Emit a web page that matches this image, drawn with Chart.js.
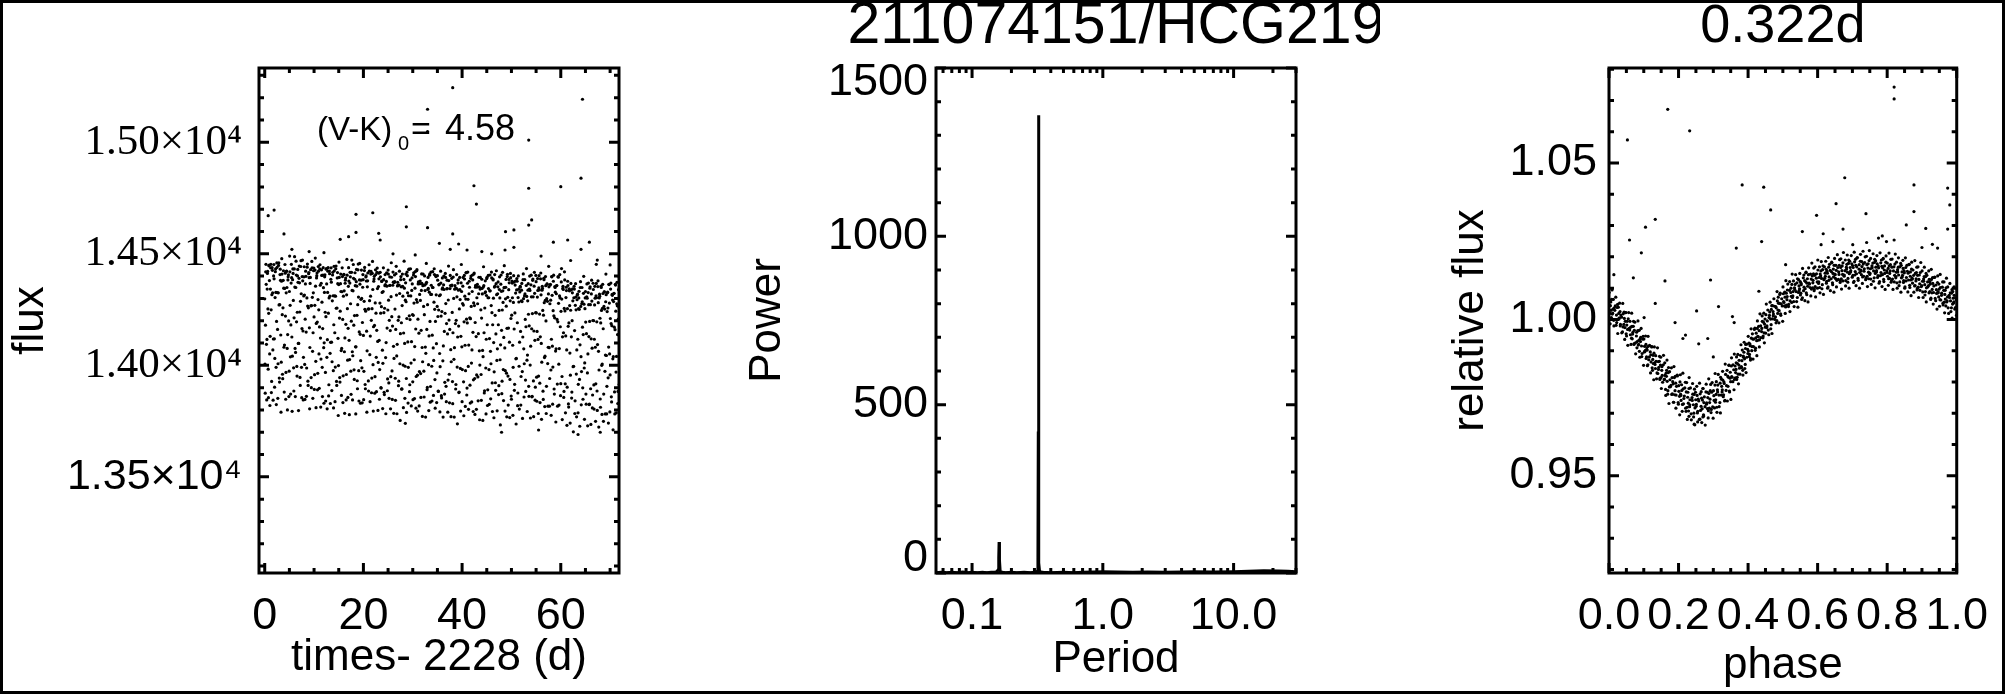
<!DOCTYPE html>
<html>
<head>
<meta charset="utf-8">
<script src="https://cdn.jsdelivr.net/npm/chart.js@4.4.1/dist/chart.umd.min.js"></script>
<style>
html,body{margin:0;padding:0;background:#fff;}
#wrap{position:relative;width:2005px;height:694px;overflow:hidden;background:#fff;}
#wrap canvas{position:absolute;top:0;}
#frame{position:absolute;left:0;top:0;width:2005px;height:694px;box-sizing:border-box;border:3px solid #000;pointer-events:none;}
</style>
</head>
<body>
<div id="wrap">
<canvas id="c1" width="680" height="694" style="left:0px"></canvas>
<canvas id="c2" width="680" height="694" style="left:700px"></canvas>
<canvas id="c3" width="625" height="694" style="left:1380px"></canvas>
<div id="frame"></div>
</div>
<script>
// ---------- Panel 1: light curve ----------
const lcTime = [
0,0.1,0.2,0.3,0.4,0.5,0.6,0.7,0.8,0.9,1,1.1,1.2,1.3,1.4,1.5,1.6,1.7,1.8,1.9,2,2.1,2.2,2.3,2.4,2.5,2.6,2.7,2.8,
2.9,3,3.1,3.2,3.3,3.4,3.5,3.6,3.7,3.8,3.9,4,4.1,4.2,4.3,4.4,4.5,4.6,4.7,4.8,4.9,5,5.1,5.2,5.3,5.4,5.5,5.6,5.7,
5.8,5.9,6,6.1,6.2,6.3,6.4,6.5,6.6,6.7,6.8,6.9,7,7.1,7.2,7.3,7.4,7.5,7.6,7.7,7.8,7.9,8,8.1,8.2,8.3,8.4,8.5,8.6,
8.7,8.8,8.9,9,9.1,9.2,9.3,9.4,9.5,9.6,9.7,9.8,9.9,10,10.1,10.2,10.3,10.4,10.5,10.6,10.7,10.8,10.9,11,11.1,11.2,11.3,11.4,11.5,
11.6,11.7,11.8,11.9,12,12.1,12.2,12.3,12.4,12.5,12.6,12.7,12.8,12.9,13,13.1,13.2,13.3,13.4,13.5,13.6,13.7,13.8,13.9,14,14.1,14.2,14.3,14.4,
14.5,14.6,14.7,14.8,14.9,15,15.1,15.2,15.3,15.4,15.5,15.6,15.7,15.8,15.9,16,16.1,16.2,16.3,16.4,16.5,16.6,16.7,16.8,16.9,17,17.1,17.2,17.3,
17.4,17.5,17.6,17.7,17.8,17.9,18,18.1,18.2,18.3,18.4,18.5,18.6,18.7,18.8,18.9,19,19.1,19.2,19.3,19.4,19.5,19.6,19.7,19.8,19.9,20,20.1,20.2,
20.3,20.4,20.5,20.6,20.7,20.8,20.9,21,21.1,21.2,21.3,21.4,21.5,21.6,21.7,21.8,21.9,22,22.1,22.2,22.3,22.4,22.5,22.6,22.7,22.8,22.9,23,23.1,
23.2,23.3,23.4,23.5,23.6,23.7,23.8,23.9,24,24.1,24.2,24.3,24.4,24.5,24.6,24.7,24.8,24.9,25,25.1,25.2,25.3,25.4,25.5,25.6,25.7,25.8,25.9,26,
26.1,26.2,26.3,26.4,26.5,26.6,26.7,26.8,26.9,27,27.1,27.2,27.3,27.4,27.5,27.6,27.7,27.8,27.9,28,28.1,28.2,28.3,28.4,28.5,28.6,28.7,28.8,28.9,
29,29.1,29.2,29.3,29.4,29.5,29.6,29.7,29.8,29.9,30,30.1,30.2,30.3,30.4,30.5,30.6,30.7,30.8,30.9,31,31.1,31.2,31.3,31.4,31.5,31.6,31.7,31.8,
31.9,32,32.1,32.2,32.3,32.4,32.5,32.6,32.7,32.8,32.9,33,33.1,33.2,33.3,33.4,33.5,33.6,33.7,33.8,33.9,34,34.1,34.2,34.3,34.4,34.5,34.6,34.7,
34.8,34.9,35,35.1,35.2,35.3,35.4,35.5,35.6,35.7,35.8,35.9,36,36.1,36.2,36.3,36.4,36.5,36.6,36.7,36.8,36.9,37,37.1,37.2,37.3,37.4,37.5,37.6,
37.7,37.8,37.9,38,38.1,38.2,38.3,38.4,38.5,38.6,38.7,38.8,38.9,39,39.1,39.2,39.3,39.4,39.5,39.6,39.7,39.8,39.9,40,40.1,40.2,40.3,40.4,40.5,
40.6,40.7,40.8,40.9,41,41.1,41.2,41.3,41.4,41.5,41.6,41.7,41.8,41.9,42,42.1,42.2,42.3,42.4,42.5,42.6,42.7,42.8,42.9,43,43.1,43.2,43.3,43.4,
43.5,43.6,43.7,43.8,43.9,44,44.1,44.2,44.3,44.4,44.5,44.6,44.7,44.8,44.9,45,45.1,45.2,45.3,45.4,45.5,45.6,45.7,45.8,45.9,46,46.1,46.2,46.3,
46.4,46.5,46.6,46.7,46.8,46.9,47,47.1,47.2,47.3,47.4,47.5,47.6,47.7,47.8,47.9,48,48.1,48.2,48.3,48.4,48.5,48.6,48.7,48.8,48.9,49,49.1,49.2,
49.3,49.4,49.5,49.6,49.7,49.8,49.9,50,50.1,50.2,50.3,50.4,50.5,50.6,50.7,50.8,50.9,51,51.1,51.2,51.3,51.4,51.5,51.6,51.7,51.8,51.9,52,52.1,
52.2,52.3,52.4,52.5,52.6,52.7,52.8,52.9,53,53.1,53.2,53.3,53.4,53.5,53.6,53.7,53.8,53.9,54,54.1,54.2,54.3,54.4,54.5,54.6,54.7,54.8,54.9,55,
55.1,55.2,55.3,55.4,55.5,55.6,55.7,55.8,55.9,56,56.1,56.2,56.3,56.4,56.5,56.6,56.7,56.8,56.9,57,57.1,57.2,57.3,57.4,57.5,57.6,57.7,57.8,57.9,
58,58.1,58.2,58.3,58.4,58.5,58.6,58.7,58.8,58.9,59,59.1,59.2,59.3,59.4,59.5,59.6,59.7,59.8,59.9,60,60.1,60.2,60.3,60.4,60.5,60.6,60.7,60.8,
60.9,61,61.1,61.2,61.3,61.4,61.5,61.6,61.7,61.8,61.9,62,62.1,62.2,62.3,62.4,62.5,62.6,62.7,62.8,62.9,63,63.1,63.2,63.3,63.4,63.5,63.6,63.7,
63.8,63.9,64,64.1,64.2,64.3,64.4,64.5,64.6,64.7,64.8,64.9,65,65.1,65.2,65.3,65.4,65.5,65.6,65.7,65.8,65.9,66,66.1,66.2,66.3,66.4,66.5,66.6,
66.7,66.8,66.9,67,67.1,67.2,67.3,67.4,67.5,67.6,67.7,67.8,67.9,68,68.1,68.2,68.3,68.4,68.5,68.6,68.7,68.8,68.9,69,69.1,69.2,69.3,69.4,69.5,
69.6,69.7,69.8,69.9,70,70.1,70.2,70.3,70.4,70.5,70.6,70.7,70.8,70.9,71,71.1,71.2,71.3,71.4,71.5,71.6,71.7,71.8,71.9
];
const lcFlux = [
14298,13875,14419,14363,13845,14342,14421,13983,14233,14449,14051,14130,14437,14249,13928,14438,14325,13844,14401,14388,13902,14304,14432,13991,14197,14439,14161,14007,14448,
14271,13925,14407,14381,13790,14377,14409,13960,14258,14424,14081,14091,14452,14221,13968,14421,14349,13800,14383,14406,13860,14331,14419,14038,14181,14453,14127,14041,14432,
14291,13885,14432,14351,13860,14349,14405,13995,14238,14430,14098,14098,14445,14239,13910,14443,14321,13855,14398,14379,13845,14311,14442,14004,14207,14422,14149,13988,14440,
14266,13910,14411,14393,13805,14367,14429,13945,14268,14437,14063,14146,14424,14217,13958,14427,14355,13810,14392,14414,13890,14295,14422,14051,14172,14451,14122,14028,14428,
14283,13860,14404,14348,13830,14327,14406,13968,14218,14434,14036,14115,14422,14234,13913,14423,14310,13829,14386,14373,13887,14289,14417,13976,14182,14424,14146,13992,14433,
14256,13910,14392,14366,13775,14362,14394,13945,14243,14409,14066,14076,14437,14206,13953,14406,14334,13785,14368,14391,13845,14316,14404,14023,14166,14438,14112,14026,14417,
14276,13870,14417,14336,13845,14334,14390,13980,14223,14415,14083,14083,14430,14224,13895,14428,14306,13840,14383,14364,13830,14296,14427,13989,14192,14407,14134,13973,14425,
14251,13895,14396,14378,13790,14352,14414,13930,14253,14422,14048,14131,14409,14202,13943,14412,14340,13795,14377,14399,13875,14280,14407,14036,14157,14436,14107,14013,14413,
14112,13981,14417,14234,13898,14376,14327,13806,14331,14384,13879,14256,14407,14035,14102,14415,14167,13939,14427,14292,13852,14358,14359,13805,14308,14395,13975,14176,14418,
14085,14031,14405,14252,13843,14411,14315,13783,14356,14359,13909,14217,14422,14007,14142,14398,14191,13895,14409,14310,13810,14385,14346,13852,14292,14409,13941,14210,14402,
14105,13991,14430,14222,13913,14383,14311,13818,14336,14365,13926,14224,14415,14025,14084,14420,14163,13950,14424,14283,13795,14365,14369,13818,14318,14378,13963,14157,14410,
14080,14016,14409,14264,13858,14401,14335,13768,14366,14372,13891,14272,14394,14003,14132,14404,14197,13905,14418,14318,13840,14349,14349,13865,14283,14407,13936,14197,14398,
14097,13966,14402,14219,13883,14361,14312,13791,14316,14369,13864,14241,14392,14020,14087,14400,14152,13924,14412,14277,13837,14343,14344,13790,14293,14380,13960,14161,14403,
14070,14016,14390,14237,13828,14396,14300,13768,14341,14344,13894,14202,14407,13992,14127,14383,14176,13880,14394,14295,13795,14370,14331,13837,14277,14394,13926,14195,14387,
14090,13976,14415,14207,13898,14368,14296,13803,14321,14350,13911,14209,14400,14010,14069,14405,14148,13935,14409,14268,13780,14350,14354,13803,14303,14363,13948,14142,14395,
14065,14001,14394,14249,13843,14386,14320,13753,14351,14357,13876,14257,14379,13988,14117,14389,14182,13890,14403,14303,13825,14334,14334,13850,14268,14392,13921,14182,14383,
14102,13971,14407,14224,13888,14366,14317,13796,14321,14374,13869,14246,14397,14025,14092,14405,14157,13929,14417,14282,13842,14348,14349,13795,14298,14385,13965,14166,14408,
13952,14167,14385,14104,13937,14412,14210,13848,14378,14303,13776,14282,14373,13888,14235,14378,14029,14031,14389,14191,13876,14401,14284,13804,14329,14354,13822,14289,14367,
13972,14127,14410,14074,14007,14384,14206,13883,14358,14309,13793,14289,14366,13906,14177,14400,14001,14086,14404,14164,13861,14381,14307,13770,14355,14323,13844,14236,14375,
13947,14152,14389,14116,13952,14402,14230,13833,14388,14316,13758,14337,14345,13884,14225,14384,14035,14041,14398,14199,13906,14365,14287,13817,14320,14352,13817,14276,14363,
13979,14117,14397,14086,13992,14377,14222,13871,14353,14328,13746,14321,14358,13916,14195,14395,14005,14075,14407,14173,13918,14374,14297,13757,14345,14340,13856,14255,14383,
13917,14132,14350,14069,13902,14377,14175,13813,14343,14268,13741,14247,14338,13853,14200,14343,13994,13996,14354,14156,13841,14366,14249,13769,14294,14319,13787,14254,14332,
13937,14092,14375,14039,13972,14349,14171,13848,14323,14274,13758,14254,14331,13871,14142,14365,13966,14051,14369,14129,13826,14346,14272,13735,14320,14288,13809,14201,14340,
13912,14117,14354,14081,13917,14367,14195,13798,14353,14281,13723,14302,14310,13849,14190,14349,14000,14006,14363,14164,13871,14330,14252,13782,14285,14317,13782,14241,14328,
13944,14082,14362,14051,13957,14342,14187,13836,14318,14293,13711,14286,14323,13881,14160,14360,13970,14040,14372,14138,13883,14339,14262,13722
];
const lcTime2 = [
0.05,0.15,0.25,0.35,0.45,0.55,0.65,0.75,0.85,0.95,1.05,1.15,1.25,1.35,1.45,1.55,1.65,1.75,1.85,1.95,2.05,2.15,2.25,2.35,2.45,2.55,2.65,2.75,2.85,
2.95,3.05,3.15,3.25,3.35,3.45,3.55,3.65,3.75,3.85,3.95,4.05,4.15,4.25,4.35,4.45,4.55,4.65,4.75,4.85,4.95,5.05,5.15,5.25,5.35,5.45,5.55,5.65,5.75,
5.85,5.95,6.05,6.15,6.25,6.35,6.45,6.55,6.65,6.75,6.85,6.95,7.05,7.15,7.25,7.35,7.45,7.55,7.65,7.75,7.85,7.95,8.05,8.15,8.25,8.35,8.45,8.55,8.65,
8.75,8.85,8.95,9.05,9.15,9.25,9.35,9.45,9.55,9.65,9.75,9.85,9.95,10.05,10.15,10.25,10.35,10.45,10.55,10.65,10.75,10.85,10.95,11.05,11.15,11.25,11.35,11.45,11.55,
11.65,11.75,11.85,11.95,12.05,12.15,12.25,12.35,12.45,12.55,12.65,12.75,12.85,12.95,13.05,13.15,13.25,13.35,13.45,13.55,13.65,13.75,13.85,13.95,14.05,14.15,14.25,14.35,14.45,
14.55,14.65,14.75,14.85,14.95,15.05,15.15,15.25,15.35,15.45,15.55,15.65,15.75,15.85,15.95,16.05,16.15,16.25,16.35,16.45,16.55,16.65,16.75,16.85,16.95,17.05,17.15,17.25,17.35,
17.45,17.55,17.65,17.75,17.85,17.95,18.05,18.15,18.25,18.35,18.45,18.55,18.65,18.75,18.85,18.95,19.05,19.15,19.25,19.35,19.45,19.55,19.65,19.75,19.85,19.95,20.05,20.15,20.25,
20.35,20.45,20.55,20.65,20.75,20.85,20.95,21.05,21.15,21.25,21.35,21.45,21.55,21.65,21.75,21.85,21.95,22.05,22.15,22.25,22.35,22.45,22.55,22.65,22.75,22.85,22.95,23.05,23.15,
23.25,23.35,23.45,23.55,23.65,23.75,23.85,23.95,24.05,24.15,24.25,24.35,24.45,24.55,24.65,24.75,24.85,24.95,25.05,25.15,25.25,25.35,25.45,25.55,25.65,25.75,25.85,25.95,26.05,
26.15,26.25,26.35,26.45,26.55,26.65,26.75,26.85,26.95,27.05,27.15,27.25,27.35,27.45,27.55,27.65,27.75,27.85,27.95,28.05,28.15,28.25,28.35,28.45,28.55,28.65,28.75,28.85,28.95,
29.05,29.15,29.25,29.35,29.45,29.55,29.65,29.75,29.85,29.95,30.05,30.15,30.25,30.35,30.45,30.55,30.65,30.75,30.85,30.95,31.05,31.15,31.25,31.35,31.45,31.55,31.65,31.75,31.85,
31.95,32.05,32.15,32.25,32.35,32.45,32.55,32.65,32.75,32.85,32.95,33.05,33.15,33.25,33.35,33.45,33.55,33.65,33.75,33.85,33.95,34.05,34.15,34.25,34.35,34.45,34.55,34.65,34.75,
34.85,34.95,35.05,35.15,35.25,35.35,35.45,35.55,35.65,35.75,35.85,35.95,36.05,36.15,36.25,36.35,36.45,36.55,36.65,36.75,36.85,36.95,37.05,37.15,37.25,37.35,37.45,37.55,37.65,
37.75,37.85,37.95,38.05,38.15,38.25,38.35,38.45,38.55,38.65,38.75,38.85,38.95,39.05,39.15,39.25,39.35,39.45,39.55,39.65,39.75,39.85,39.95,40.05,40.15,40.25,40.35,40.45,40.55,
40.65,40.75,40.85,40.95,41.05,41.15,41.25,41.35,41.45,41.55,41.65,41.75,41.85,41.95,42.05,42.15,42.25,42.35,42.45,42.55,42.65,42.75,42.85,42.95,43.05,43.15,43.25,43.35,43.45,
43.55,43.65,43.75,43.85,43.95,44.05,44.15,44.25,44.35,44.45,44.55,44.65,44.75,44.85,44.95,45.05,45.15,45.25,45.35,45.45,45.55,45.65,45.75,45.85,45.95,46.05,46.15,46.25,46.35,
46.45,46.55,46.65,46.75,46.85,46.95,47.05,47.15,47.25,47.35,47.45,47.55,47.65,47.75,47.85,47.95,48.05,48.15,48.25,48.35,48.45,48.55,48.65,48.75,48.85,48.95,49.05,49.15,49.25,
49.35,49.45,49.55,49.65,49.75,49.85,49.95,50.05,50.15,50.25,50.35,50.45,50.55,50.65,50.75,50.85,50.95,51.05,51.15,51.25,51.35,51.45,51.55,51.65,51.75,51.85,51.95,52.05,52.15,
52.25,52.35,52.45,52.55,52.65,52.75,52.85,52.95,53.05,53.15,53.25,53.35,53.45,53.55,53.65,53.75,53.85,53.95,54.05,54.15,54.25,54.35,54.45,54.55,54.65,54.75,54.85,54.95,55.05,
55.15,55.25,55.35,55.45,55.55,55.65,55.75,55.85,55.95,56.05,56.15,56.25,56.35,56.45,56.55,56.65,56.75,56.85,56.95,57.05,57.15,57.25,57.35,57.45,57.55,57.65,57.75,57.85,57.95,
58.05,58.15,58.25,58.35,58.45,58.55,58.65,58.75,58.85,58.95,59.05,59.15,59.25,59.35,59.45,59.55,59.65,59.75,59.85,59.95,60.05,60.15,60.25,60.35,60.45,60.55,60.65,60.75,60.85,
60.95,61.05,61.15,61.25,61.35,61.45,61.55,61.65,61.75,61.85,61.95,62.05,62.15,62.25,62.35,62.45,62.55,62.65,62.75,62.85,62.95,63.05,63.15,63.25,63.35,63.45,63.55,63.65,63.75,
63.85,63.95,64.05,64.15,64.25,64.35,64.45,64.55,64.65,64.75,64.85,64.95,65.05,65.15,65.25,65.35,65.45,65.55,65.65,65.75,65.85,65.95,66.05,66.15,66.25,66.35,66.45,66.55,66.65,
66.75,66.85,66.95,67.05,67.15,67.25,67.35,67.45,67.55,67.65,67.75,67.85,67.95,68.05,68.15,68.25,68.35,68.45,68.55,68.65,68.75,68.85,68.95,69.05,69.15,69.25,69.35,69.45,69.55,
69.65,69.75,69.85,69.95,70.05,70.15,70.25,70.35,70.45,70.55,70.65,70.75,70.85,70.95,71.05,71.15,71.25,71.35,71.45,71.55,71.65,71.75,71.85,71.95
];
const lcFlux2 = [
14006,14180,14453,14094,14116,14412,14253,13855,14446,14380,13820,14342,14453,13878,14317,14426,14069,14118,14452,14119,14031,14420,14327,13824,14459,14326,13852,14325,14460,
13943,14272,14431,14136,14014,14478,14227,13940,14381,14346,13880,14345,14413,13848,14325,14423,14076,14138,14397,14199,13974,14490,14269,13871,14369,14393,13794,14384,14412,
13989,14213,14487,14076,14058,14467,14195,13952,14401,14372,13797,14390,14370,13946,14287,14469,13991,14165,14472,14154,14036,14397,14315,13847,14365,14399,13861,14302,14454,
13929,14258,14416,14168,14080,14394,14267,13900,14466,14305,13852,14325,14436,13892,14269,14481,14018,14188,14402,14194,13964,14443,14249,13897,14432,14359,13813,14368,14403,
13991,14165,14438,14079,14101,14397,14238,13840,14431,14365,13805,14327,14438,13863,14302,14411,14054,14103,14437,14104,14016,14405,14312,13809,14444,14311,13837,14310,14445,
13928,14257,14416,14121,13999,14463,14212,13925,14366,14331,13865,14330,14398,13833,14310,14408,14061,14123,14382,14184,13959,14475,14254,13856,14354,14378,13779,14369,14397,
13974,14198,14472,14061,14043,14452,14180,13937,14386,14357,13782,14375,14355,13931,14272,14454,13976,14150,14457,14139,14021,14382,14300,13832,14350,14384,13846,14287,14439,
13914,14243,14401,14153,14065,14379,14252,13885,14451,14290,13837,14310,14421,13877,14254,14466,14003,14173,14387,14179,13949,14428,14234,13882,14417,14344,13798,14353,14388,
13848,14279,14397,13900,14263,14378,14068,14009,14437,14236,13869,14357,14362,13783,14376,14355,13886,14248,14409,13921,14202,14397,14156,13949,14460,14218,13847,14359,14373,
13785,14371,14375,13942,14161,14444,14042,14094,14372,14202,13929,14360,14322,13753,14384,14352,13893,14268,14354,14001,14145,14467,14098,13996,14370,14285,13789,14418,14325,
13831,14312,14431,13882,14205,14433,14010,14106,14392,14228,13846,14405,14279,13851,14346,14398,13808,14295,14429,13956,14207,14374,14144,13972,14366,14291,13856,14336,14367,
13771,14357,14360,13974,14227,14360,14082,14054,14457,14161,13901,14340,14345,13797,14328,14410,13835,14318,14359,13996,14135,14420,14078,14022,14433,14251,13808,14402,14316,
13833,14264,14382,13885,14248,14363,14053,13994,14422,14221,13854,14342,14347,13768,14361,14340,13871,14233,14394,13906,14187,14382,14141,13934,14445,14203,13832,14344,14358,
13770,14356,14360,13927,14146,14429,14027,14079,14357,14187,13914,14345,14307,13738,14369,14337,13878,14253,14339,13986,14130,14452,14083,13981,14355,14270,13774,14403,14310,
13816,14297,14416,13867,14190,14418,13995,14091,14377,14213,13831,14390,14264,13836,14331,14383,13793,14280,14414,13941,14192,14359,14129,13957,14351,14276,13841,14321,14352,
13756,14342,14345,13959,14212,14345,14067,14039,14442,14146,13886,14325,14330,13782,14313,14395,13820,14303,14344,13981,14120,14405,14063,14007,14418,14236,13793,14387,14301,
13765,14351,14355,13922,14141,14424,14022,14074,14352,14182,13909,14340,14302,13733,14364,14332,13873,14248,14334,13981,14125,14447,14078,13976,14350,14265,13769,14398,14305,
13822,14339,14370,13766,14289,14393,13862,14225,14369,14090,13991,14402,14163,13915,14360,14324,13737,14338,14377,13819,14304,14341,13996,14104,14350,14152,13950,14337,14286,
13762,14384,14299,13858,14311,14320,13934,14173,14434,14023,14046,14337,14229,13861,14342,14336,13764,14361,14307,13859,14232,14387,13930,14154,14417,14112,13902,14403,14235,
13839,14306,14336,13784,14347,14338,13920,14128,14414,14098,14014,14354,14246,13847,14390,14281,13815,14291,14357,13784,14299,14364,14008,14081,14444,14079,13941,14360,14292,
13776,14398,14314,13826,14245,14404,13894,14213,14349,14064,14074,14357,14206,13817,14398,14278,13822,14311,14302,13864,14242,14434,13950,14128,14354,14146,13883,14419,14244,
13787,14304,14335,13731,14254,14358,13827,14190,14334,14055,13956,14367,14128,13880,14325,14289,13702,14303,14342,13784,14269,14306,13961,14069,14315,14117,13915,14302,14251,
13727,14349,14264,13823,14276,14285,13899,14138,14399,13988,14011,14302,14194,13826,14307,14301,13729,14326,14272,13824,14197,14352,13895,14119,14382,14077,13867,14368,14200,
13804,14271,14301,13749,14312,14303,13885,14093,14379,14063,13979,14319,14211,13812,14355,14246,13780,14256,14322,13749,14264,14329,13973,14046,14409,14044,13906,14325,14257,
13741,14363,14279,13791,14210,14369,13859,14178,14314,14029,14039,14322,14171,13782,14363,14243,13787,14276,14267,13829,14207,14399,13915,14093
];
const lcOutTime = [0.7,1.9,3.9,5.5,9.0,12.0,15.3,17.0,18.5,18.5,21.9,23.1,23.4,26.0,28.5,28.7,28.7,30.5,33.0,33.0,33.0,35.4,37.6,38.1,38.1,39.3,41.0,42.4,42.9,44.0,46.0,48.0,48.7,48.8,50.5,50.5,53.5,53.5,53.5,54.1,55.5,56.0,58.5,60.0,61.4,62.0,63.5,64.1,64.1,64.4,65.8,67.2,67.4,68.0,70.0];
const lcOutFlux = [14671,14696,14589,14520,14510,14505,14565,14577,14596,14677,14684,14592,14562,14500,13740,14711,14621,14495,15148,15048,14617,14547,14520,15245,14589,14544,14517,14805,14723,14510,14500,13700,14517,14599,14607,14529,15010,14794,14629,14652,13710,14490,14552,14801,14562,14470,13690,14839,14520,15193,14552,14453,14472,13700,14450];
const lcXRange = [-1.16, 71.8];
const lcYRange = [13069, 15333];
const lcXTicks = [0, 20, 40, 60];
const lcXLabels = ['0', '20', '40', '60'];
const lcXMinor = [5, 10, 15, 25, 30, 35, 45, 50, 55, 65, 70];
const lcYTicks = [13500, 14000, 14500, 15000];
const lcYLabels = ['1.35\u00d710\u2074', '1.40\u00d710\u2074', '1.45\u00d710\u2074', '1.50\u00d710\u2074'];
const lcYMinor = [13100,13200,13300,13400,13600,13700,13800,13900,14100,14200,14300,14400,14600,14700,14800,14900,15100,15200,15300];

// ---------- Panel 2: periodogram ----------
const pgTitle = '211074151/HCG219';
const pgPeriod = [0.053,0.058,0.064,0.07,0.077,0.085,0.093,0.1,0.11,0.12,0.13,0.14,0.15,0.155,0.158,0.16,0.161,0.162,0.164,0.167,0.172,0.18,0.2,0.22,0.25,0.28,0.3,0.31,0.316,0.319,0.321,0.322,0.323,0.325,0.328,0.335,0.35,0.4,0.5,0.6,0.7,0.85,1.0,1.3,1.7,2.2,3,4,5,7,10,13,17,22,26,30];
const pgPower = [1,2,1,2,1,3,1,2,1,2,1,2,3,4,9,45,92,38,6,3,2,1,2,1,2,1,2,3,6,40,420,1360,380,30,6,3,2,1,2,1,2,3,4,3,2,3,2,3,4,3,4,5,7,6,5,4];
const pgXRange = [0.053, 30];
const pgYRange = [0, 1500];
const pgXTicks = [0.1, 1, 10];
const pgXLabels = ['0.1', '1.0', '10.0'];
const pgXMinor = [0.06,0.07,0.08,0.09,0.2,0.3,0.4,0.5,0.6,0.7,0.8,0.9,2,3,4,5,6,7,8,9,20,30];
const pgYTicks = [0, 500, 1000, 1500];
// end labels sit inside the axis range (first pushed up, last pushed down)
const pgYLabels = [['0', ''], '500', '1000', ['', '1500']];
const pgYMinor = [100,200,300,400,600,700,800,900,1100,1200,1300,1400];

// ---------- Panel 3: phase-folded ----------
const phTitle = '0.322d';
const phPhase = [
0.0009,0.0027,0.0041,0.0058,0.0073,0.0094,0.0112,0.0135,0.0153,0.0181,
0.0215,0.0222,0.0247,0.0263,0.0280,0.0299,0.0318,0.0329,0.0362,0.0388,
0.0409,0.0427,0.0441,0.0458,0.0473,0.0494,0.0512,0.0535,0.0553,0.0581,
0.0615,0.0622,0.0647,0.0663,0.0680,0.0699,0.0718,0.0729,0.0762,0.0788,
0.0809,0.0827,0.0841,0.0858,0.0873,0.0894,0.0912,0.0935,0.0953,0.0981,
0.1015,0.1022,0.1047,0.1063,0.1080,0.1099,0.1118,0.1129,0.1162,0.1188,
0.1209,0.1227,0.1241,0.1258,0.1273,0.1294,0.1312,0.1335,0.1353,0.1381,
0.1415,0.1422,0.1447,0.1463,0.1480,0.1499,0.1518,0.1529,0.1562,0.1588,
0.1609,0.1627,0.1641,0.1658,0.1673,0.1694,0.1712,0.1735,0.1753,0.1781,
0.1815,0.1822,0.1847,0.1863,0.1880,0.1899,0.1918,0.1929,0.1962,0.1988,
0.2009,0.2027,0.2041,0.2058,0.2073,0.2094,0.2112,0.2135,0.2153,0.2181,
0.2215,0.2222,0.2247,0.2263,0.2280,0.2299,0.2318,0.2329,0.2362,0.2388,
0.2409,0.2427,0.2441,0.2458,0.2473,0.2494,0.2512,0.2535,0.2553,0.2581,
0.2615,0.2622,0.2647,0.2663,0.2680,0.2699,0.2718,0.2729,0.2762,0.2788,
0.2809,0.2827,0.2841,0.2858,0.2873,0.2894,0.2912,0.2935,0.2953,0.2981,
0.3015,0.3022,0.3047,0.3063,0.3080,0.3099,0.3118,0.3129,0.3162,0.3188,
0.3209,0.3227,0.3241,0.3258,0.3273,0.3294,0.3312,0.3335,0.3353,0.3381,
0.3415,0.3422,0.3447,0.3463,0.3480,0.3499,0.3518,0.3529,0.3562,0.3588,
0.3609,0.3627,0.3641,0.3658,0.3673,0.3694,0.3712,0.3735,0.3753,0.3781,
0.3815,0.3822,0.3847,0.3863,0.3880,0.3899,0.3918,0.3929,0.3962,0.3988,
0.4009,0.4027,0.4041,0.4058,0.4073,0.4094,0.4112,0.4135,0.4153,0.4181,
0.4215,0.4222,0.4247,0.4263,0.4280,0.4299,0.4318,0.4329,0.4362,0.4388,
0.4409,0.4427,0.4441,0.4458,0.4473,0.4494,0.4512,0.4535,0.4553,0.4581,
0.4615,0.4622,0.4647,0.4663,0.4680,0.4699,0.4718,0.4729,0.4762,0.4788,
0.4809,0.4827,0.4841,0.4858,0.4873,0.4894,0.4912,0.4935,0.4953,0.4981,
0.5015,0.5022,0.5047,0.5063,0.5080,0.5099,0.5118,0.5129,0.5162,0.5188,
0.5209,0.5227,0.5241,0.5258,0.5273,0.5294,0.5312,0.5335,0.5353,0.5381,
0.5415,0.5422,0.5447,0.5463,0.5480,0.5499,0.5518,0.5529,0.5562,0.5588,
0.5609,0.5627,0.5641,0.5658,0.5673,0.5694,0.5712,0.5735,0.5753,0.5781,
0.5815,0.5822,0.5847,0.5863,0.5880,0.5899,0.5918,0.5929,0.5962,0.5988,
0.6009,0.6027,0.6041,0.6058,0.6073,0.6094,0.6112,0.6135,0.6153,0.6181,
0.6215,0.6222,0.6247,0.6263,0.6280,0.6299,0.6318,0.6329,0.6362,0.6388,
0.6409,0.6427,0.6441,0.6458,0.6473,0.6494,0.6512,0.6535,0.6553,0.6581,
0.6615,0.6622,0.6647,0.6663,0.6680,0.6699,0.6718,0.6729,0.6762,0.6788,
0.6809,0.6827,0.6841,0.6858,0.6873,0.6894,0.6912,0.6935,0.6953,0.6981,
0.7015,0.7022,0.7047,0.7063,0.7080,0.7099,0.7118,0.7129,0.7162,0.7188,
0.7209,0.7227,0.7241,0.7258,0.7273,0.7294,0.7312,0.7335,0.7353,0.7381,
0.7415,0.7422,0.7447,0.7463,0.7480,0.7499,0.7518,0.7529,0.7562,0.7588,
0.7609,0.7627,0.7641,0.7658,0.7673,0.7694,0.7712,0.7735,0.7753,0.7781,
0.7815,0.7822,0.7847,0.7863,0.7880,0.7899,0.7918,0.7929,0.7962,0.7988,
0.8009,0.8027,0.8041,0.8058,0.8073,0.8094,0.8112,0.8135,0.8153,0.8181,
0.8215,0.8222,0.8247,0.8263,0.8280,0.8299,0.8318,0.8329,0.8362,0.8388,
0.8409,0.8427,0.8441,0.8458,0.8473,0.8494,0.8512,0.8535,0.8553,0.8581,
0.8615,0.8622,0.8647,0.8663,0.8680,0.8699,0.8718,0.8729,0.8762,0.8788,
0.8809,0.8827,0.8841,0.8858,0.8873,0.8894,0.8912,0.8935,0.8953,0.8981,
0.9015,0.9022,0.9047,0.9063,0.9080,0.9099,0.9118,0.9129,0.9162,0.9188,
0.9209,0.9227,0.9241,0.9258,0.9273,0.9294,0.9312,0.9335,0.9353,0.9381,
0.9415,0.9422,0.9447,0.9463,0.9480,0.9499,0.9518,0.9529,0.9562,0.9588,
0.9609,0.9627,0.9641,0.9658,0.9673,0.9694,0.9712,0.9735,0.9753,0.9781,
0.9815,0.9822,0.9847,0.9863,0.9880,0.9899,0.9918,0.9929,0.9962,0.9988
];
const phFlux = [
1.0059,1.0019,1.0044,1.0029,1.0064,1.0017,1.0033,0.9997,1.0037,1.0043,
1.0014,0.9990,1.0048,1.0001,1.0019,1.0005,1.0025,0.9984,1.0007,0.9960,
1.0018,0.9984,1.0003,0.9974,1.0022,0.9954,0.9982,0.9968,1.0002,0.9971,
0.9951,0.9975,0.9940,0.9978,0.9953,0.9978,0.9920,0.9965,0.9925,0.9947,
0.9929,0.9964,0.9918,0.9933,0.9898,0.9937,0.9943,0.9915,0.9891,0.9946,
0.9896,0.9914,0.9901,0.9920,0.9880,0.9902,0.9855,0.9914,0.9880,0.9896,
0.9864,0.9912,0.9845,0.9872,0.9859,0.9892,0.9861,0.9843,0.9866,0.9829,
0.9865,0.9840,0.9866,0.9808,0.9854,0.9814,0.9837,0.9821,0.9855,0.9807,
0.9821,0.9776,0.9828,0.9837,0.9802,0.9772,0.9846,0.9784,0.9807,0.9789,
0.9814,0.9762,0.9794,0.9735,0.9814,0.9772,0.9796,0.9758,0.9822,0.9734,
0.9770,0.9754,0.9800,0.9761,0.9741,0.9773,0.9728,0.9778,0.9747,0.9781,
0.9706,0.9768,0.9719,0.9751,0.9732,0.9779,0.9721,0.9743,0.9698,0.9750,
0.9761,0.9727,0.9700,0.9777,0.9717,0.9743,0.9728,0.9757,0.9706,0.9739,
0.9681,0.9762,0.9722,0.9748,0.9714,0.9779,0.9695,0.9734,0.9721,0.9768,
0.9733,0.9715,0.9750,0.9708,0.9763,0.9734,0.9772,0.9702,0.9767,0.9720,
0.9756,0.9741,0.9790,0.9735,0.9760,0.9719,0.9775,0.9790,0.9758,0.9734,
0.9815,0.9758,0.9786,0.9775,0.9806,0.9759,0.9795,0.9741,0.9824,0.9788,
0.9819,0.9786,0.9853,0.9771,0.9812,0.9801,0.9851,0.9817,0.9801,0.9839,
0.9808,0.9851,0.9830,0.9861,0.9808,0.9859,0.9825,0.9854,0.9844,0.9885,
0.9846,0.9868,0.9837,0.9883,0.9895,0.9874,0.9856,0.9920,0.9879,0.9904,
0.9899,0.9924,0.9888,0.9916,0.9875,0.9940,0.9913,0.9937,0.9913,0.9968,
0.9908,0.9941,0.9932,0.9971,0.9946,0.9934,0.9964,0.9935,0.9979,0.9961,
0.9994,0.9941,0.9991,0.9957,0.9985,0.9975,1.0015,0.9974,0.9995,0.9966,
1.0013,1.0024,1.0001,0.9983,1.0044,1.0002,1.0025,1.0017,1.0042,1.0008,
1.0037,0.9996,1.0059,1.0030,1.0052,1.0028,1.0080,1.0018,1.0050,1.0043,
1.0082,1.0057,1.0043,1.0071,1.0040,1.0084,1.0063,1.0094,1.0041,1.0093,
1.0059,1.0086,1.0074,1.0112,1.0070,1.0089,1.0057,1.0101,1.0112,1.0089,
1.0070,1.0130,1.0086,1.0107,1.0098,1.0121,1.0084,1.0111,1.0069,1.0133,
1.0103,1.0124,1.0098,1.0149,1.0085,1.0116,1.0106,1.0143,1.0116,1.0102,
1.0129,1.0097,1.0139,1.0117,1.0146,1.0092,1.0141,1.0105,1.0132,1.0120,
1.0158,1.0115,1.0134,1.0102,1.0145,1.0155,1.0131,1.0111,1.0171,1.0127,
1.0148,1.0138,1.0160,1.0122,1.0148,1.0104,1.0167,1.0136,1.0157,1.0130,
1.0181,1.0117,1.0147,1.0136,1.0173,1.0145,1.0131,1.0157,1.0125,1.0166,
1.0144,1.0173,1.0118,1.0166,1.0130,1.0156,1.0144,1.0181,1.0138,1.0156,
1.0124,1.0167,1.0176,1.0151,1.0131,1.0190,1.0146,1.0166,1.0156,1.0178,
1.0141,1.0166,1.0122,1.0184,1.0153,1.0173,1.0146,1.0196,1.0131,1.0161,
1.0150,1.0186,1.0158,1.0143,1.0169,1.0136,1.0177,1.0154,1.0182,1.0127,
1.0175,1.0138,1.0164,1.0151,1.0188,1.0144,1.0162,1.0129,1.0171,1.0180,
1.0155,1.0133,1.0192,1.0147,1.0167,1.0156,1.0178,1.0140,1.0165,1.0121,
1.0181,1.0150,1.0170,1.0143,1.0193,1.0128,1.0158,1.0147,1.0183,1.0155,
1.0138,1.0163,1.0130,1.0171,1.0147,1.0175,1.0119,1.0167,1.0129,1.0155,
1.0141,1.0177,1.0133,1.0151,1.0117,1.0159,1.0167,1.0142,1.0120,1.0179,
1.0133,1.0152,1.0141,1.0163,1.0124,1.0149,1.0104,1.0166,1.0134,1.0154,
1.0126,1.0175,1.0109,1.0138,1.0126,1.0161,1.0132,1.0116,1.0141,1.0107,
1.0147,1.0123,1.0150,1.0094,1.0141,1.0103,1.0128,1.0114,1.0150,1.0105,
1.0122,1.0088,1.0129,1.0137,1.0111,1.0089,1.0147,1.0101,1.0120,1.0108,
1.0128,1.0089,1.0113,1.0068,1.0128,1.0096,1.0115,1.0086,1.0134,1.0067,
1.0095,1.0083,1.0118,1.0089,1.0072,1.0097,1.0063,1.0102,1.0077,1.0103,
1.0046,1.0093,1.0055,1.0080,1.0065,1.0101,1.0056,1.0072,1.0037,1.0077,
1.0085,1.0059,1.0037,1.0095,1.0049,1.0068,1.0056,1.0077,1.0038,1.0062
];
const phPhase2 = [
0.0004,0.0033,0.0052,0.0068,0.0087,0.0105,0.0124,0.0142,0.0167,0.0195,
0.0204,0.0233,0.0252,0.0268,0.0287,0.0305,0.0324,0.0342,0.0367,0.0395,
0.0404,0.0433,0.0452,0.0468,0.0487,0.0505,0.0524,0.0542,0.0567,0.0595,
0.0604,0.0633,0.0652,0.0668,0.0687,0.0705,0.0724,0.0742,0.0767,0.0795,
0.0804,0.0833,0.0852,0.0868,0.0887,0.0905,0.0924,0.0942,0.0967,0.0995,
0.1004,0.1033,0.1052,0.1068,0.1087,0.1105,0.1124,0.1142,0.1167,0.1195,
0.1204,0.1233,0.1252,0.1268,0.1287,0.1305,0.1324,0.1342,0.1367,0.1395,
0.1404,0.1433,0.1452,0.1468,0.1487,0.1505,0.1524,0.1542,0.1567,0.1595,
0.1604,0.1633,0.1652,0.1668,0.1687,0.1705,0.1724,0.1742,0.1767,0.1795,
0.1804,0.1833,0.1852,0.1868,0.1887,0.1905,0.1924,0.1942,0.1967,0.1995,
0.2004,0.2033,0.2052,0.2068,0.2087,0.2105,0.2124,0.2142,0.2167,0.2195,
0.2204,0.2233,0.2252,0.2268,0.2287,0.2305,0.2324,0.2342,0.2367,0.2395,
0.2404,0.2433,0.2452,0.2468,0.2487,0.2505,0.2524,0.2542,0.2567,0.2595,
0.2604,0.2633,0.2652,0.2668,0.2687,0.2705,0.2724,0.2742,0.2767,0.2795,
0.2804,0.2833,0.2852,0.2868,0.2887,0.2905,0.2924,0.2942,0.2967,0.2995,
0.3004,0.3033,0.3052,0.3068,0.3087,0.3105,0.3124,0.3142,0.3167,0.3195,
0.3204,0.3233,0.3252,0.3268,0.3287,0.3305,0.3324,0.3342,0.3367,0.3395,
0.3404,0.3433,0.3452,0.3468,0.3487,0.3505,0.3524,0.3542,0.3567,0.3595,
0.3604,0.3633,0.3652,0.3668,0.3687,0.3705,0.3724,0.3742,0.3767,0.3795,
0.3804,0.3833,0.3852,0.3868,0.3887,0.3905,0.3924,0.3942,0.3967,0.3995,
0.4004,0.4033,0.4052,0.4068,0.4087,0.4105,0.4124,0.4142,0.4167,0.4195,
0.4204,0.4233,0.4252,0.4268,0.4287,0.4305,0.4324,0.4342,0.4367,0.4395,
0.4404,0.4433,0.4452,0.4468,0.4487,0.4505,0.4524,0.4542,0.4567,0.4595,
0.4604,0.4633,0.4652,0.4668,0.4687,0.4705,0.4724,0.4742,0.4767,0.4795,
0.4804,0.4833,0.4852,0.4868,0.4887,0.4905,0.4924,0.4942,0.4967,0.4995,
0.5004,0.5033,0.5052,0.5068,0.5087,0.5105,0.5124,0.5142,0.5167,0.5195,
0.5204,0.5233,0.5252,0.5268,0.5287,0.5305,0.5324,0.5342,0.5367,0.5395,
0.5404,0.5433,0.5452,0.5468,0.5487,0.5505,0.5524,0.5542,0.5567,0.5595,
0.5604,0.5633,0.5652,0.5668,0.5687,0.5705,0.5724,0.5742,0.5767,0.5795,
0.5804,0.5833,0.5852,0.5868,0.5887,0.5905,0.5924,0.5942,0.5967,0.5995,
0.6004,0.6033,0.6052,0.6068,0.6087,0.6105,0.6124,0.6142,0.6167,0.6195,
0.6204,0.6233,0.6252,0.6268,0.6287,0.6305,0.6324,0.6342,0.6367,0.6395,
0.6404,0.6433,0.6452,0.6468,0.6487,0.6505,0.6524,0.6542,0.6567,0.6595,
0.6604,0.6633,0.6652,0.6668,0.6687,0.6705,0.6724,0.6742,0.6767,0.6795,
0.6804,0.6833,0.6852,0.6868,0.6887,0.6905,0.6924,0.6942,0.6967,0.6995,
0.7004,0.7033,0.7052,0.7068,0.7087,0.7105,0.7124,0.7142,0.7167,0.7195,
0.7204,0.7233,0.7252,0.7268,0.7287,0.7305,0.7324,0.7342,0.7367,0.7395,
0.7404,0.7433,0.7452,0.7468,0.7487,0.7505,0.7524,0.7542,0.7567,0.7595,
0.7604,0.7633,0.7652,0.7668,0.7687,0.7705,0.7724,0.7742,0.7767,0.7795,
0.7804,0.7833,0.7852,0.7868,0.7887,0.7905,0.7924,0.7942,0.7967,0.7995,
0.8004,0.8033,0.8052,0.8068,0.8087,0.8105,0.8124,0.8142,0.8167,0.8195,
0.8204,0.8233,0.8252,0.8268,0.8287,0.8305,0.8324,0.8342,0.8367,0.8395,
0.8404,0.8433,0.8452,0.8468,0.8487,0.8505,0.8524,0.8542,0.8567,0.8595,
0.8604,0.8633,0.8652,0.8668,0.8687,0.8705,0.8724,0.8742,0.8767,0.8795,
0.8804,0.8833,0.8852,0.8868,0.8887,0.8905,0.8924,0.8942,0.8967,0.8995,
0.9004,0.9033,0.9052,0.9068,0.9087,0.9105,0.9124,0.9142,0.9167,0.9195,
0.9204,0.9233,0.9252,0.9268,0.9287,0.9305,0.9324,0.9342,0.9367,0.9395,
0.9404,0.9433,0.9452,0.9468,0.9487,0.9505,0.9524,0.9542,0.9567,0.9595,
0.9604,0.9633,0.9652,0.9668,0.9687,0.9705,0.9724,0.9742,0.9767,0.9795,
0.9804,0.9833,0.9852,0.9868,0.9887,0.9905,0.9924,0.9942,0.9967,0.9995
];
const phFlux2 = [
1.0086,0.9986,1.0056,1.0006,1.0094,1.0020,1.0064,0.9979,1.0029,1.0071,
0.9981,1.0038,0.9955,1.0039,1.0001,1.0052,0.9979,1.0014,0.9957,1.0051,
0.9976,1.0023,0.9936,0.9994,1.0022,0.9947,0.9994,0.9917,1.0022,0.9966,
0.9994,0.9920,1.0020,0.9938,0.9959,0.9994,0.9923,0.9991,0.9890,0.9959,
0.9909,0.9995,0.9920,0.9965,0.9879,0.9929,0.9971,0.9881,0.9937,0.9853,
0.9937,0.9897,0.9947,0.9875,0.9909,0.9852,0.9946,0.9871,0.9917,0.9829,
0.9887,0.9913,0.9837,0.9885,0.9807,0.9912,0.9856,0.9884,0.9810,0.9909,
0.9827,0.9847,0.9882,0.9812,0.9879,0.9779,0.9849,0.9799,0.9885,0.9809,
0.9861,0.9757,0.9818,0.9870,0.9761,0.9830,0.9731,0.9833,0.9785,0.9845,
0.9760,0.9801,0.9735,0.9849,0.9759,0.9818,0.9716,0.9786,0.9819,0.9729,
0.9788,0.9695,0.9823,0.9757,0.9791,0.9706,0.9828,0.9730,0.9755,0.9799,
0.9716,0.9798,0.9680,0.9767,0.9707,0.9814,0.9727,0.9781,0.9679,0.9741,
0.9795,0.9688,0.9760,0.9663,0.9767,0.9722,0.9786,0.9701,0.9745,0.9680,
0.9796,0.9709,0.9769,0.9670,0.9742,0.9779,0.9691,0.9752,0.9662,0.9793,
0.9729,0.9767,0.9685,0.9810,0.9716,0.9745,0.9792,0.9712,0.9798,0.9684,
0.9772,0.9717,0.9827,0.9743,0.9801,0.9703,0.9768,0.9824,0.9721,0.9796,
0.9701,0.9809,0.9768,0.9834,0.9753,0.9800,0.9739,0.9857,0.9773,0.9837,
0.9739,0.9815,0.9854,0.9768,0.9831,0.9744,0.9877,0.9815,0.9855,0.9775,
0.9889,0.9813,0.9840,0.9880,0.9815,0.9888,0.9794,0.9869,0.9825,0.9919,
0.9849,0.9902,0.9822,0.9879,0.9927,0.9843,0.9907,0.9830,0.9921,0.9891,
0.9946,0.9881,0.9921,0.9870,0.9970,0.9900,0.9954,0.9873,0.9937,0.9972,
0.9901,0.9956,0.9884,0.9995,0.9945,0.9978,0.9912,1.0018,0.9942,0.9971,
1.0011,0.9947,1.0020,0.9925,1.0001,0.9956,1.0049,0.9979,1.0030,0.9951,
1.0006,1.0055,0.9970,1.0032,0.9955,1.0044,1.0011,1.0066,1.0000,1.0041,
0.9989,1.0089,1.0019,1.0071,0.9989,1.0051,1.0084,1.0013,1.0066,0.9994,
1.0104,1.0054,1.0087,1.0019,1.0124,1.0046,1.0073,1.0113,1.0048,1.0121,
1.0025,1.0100,1.0054,1.0145,1.0075,1.0123,1.0041,1.0096,1.0143,1.0057,
1.0117,1.0039,1.0127,1.0092,1.0147,1.0078,1.0116,1.0064,1.0163,1.0092,
1.0142,1.0060,1.0121,1.0151,1.0079,1.0130,1.0056,1.0165,1.0113,1.0145,
1.0075,1.0180,1.0101,1.0125,1.0164,1.0097,1.0168,1.0072,1.0146,1.0100,
1.0190,1.0120,1.0168,1.0085,1.0139,1.0185,1.0098,1.0159,1.0080,1.0168,
1.0132,1.0186,1.0116,1.0154,1.0100,1.0198,1.0125,1.0176,1.0092,1.0153,
1.0183,1.0111,1.0161,1.0087,1.0195,1.0143,1.0173,1.0104,1.0207,1.0128,
1.0152,1.0191,1.0123,1.0194,1.0097,1.0171,1.0123,1.0214,1.0142,1.0190,
1.0107,1.0161,1.0206,1.0119,1.0179,1.0100,1.0186,1.0151,1.0204,1.0135,
1.0172,1.0118,1.0215,1.0142,1.0192,1.0108,1.0168,1.0198,1.0125,1.0175,
1.0100,1.0208,1.0155,1.0185,1.0115,1.0218,1.0138,1.0162,1.0200,1.0132,
1.0202,1.0105,1.0178,1.0130,1.0220,1.0148,1.0195,1.0112,1.0165,1.0210,
1.0122,1.0182,1.0101,1.0187,1.0151,1.0204,1.0134,1.0171,1.0116,1.0213,
1.0140,1.0190,1.0105,1.0165,1.0195,1.0121,1.0171,1.0096,1.0203,1.0150,
1.0180,1.0109,1.0212,1.0131,1.0155,1.0192,1.0124,1.0193,1.0096,1.0168,
1.0120,1.0209,1.0137,1.0183,1.0100,1.0152,1.0197,1.0108,1.0168,1.0087,
1.0173,1.0136,1.0189,1.0118,1.0155,1.0100,1.0197,1.0123,1.0173,1.0088,
1.0148,1.0176,1.0102,1.0152,1.0076,1.0183,1.0129,1.0158,1.0087,1.0188,
1.0108,1.0130,1.0167,1.0099,1.0168,1.0070,1.0142,1.0093,1.0182,1.0108,
1.0155,1.0070,1.0122,1.0167,1.0078,1.0137,1.0056,1.0141,1.0104,1.0155,
1.0085,1.0120,1.0064,1.0160,1.0085,1.0134,1.0049,1.0107,1.0135,1.0060,
1.0110,1.0033,1.0139,1.0085,1.0113,1.0042,1.0144,1.0062,1.0084,1.0120,
1.0052,1.0120,1.0021,1.0093,1.0043,1.0132,1.0059,1.0104,1.0019,1.0070,
1.0115,1.0025,1.0084,1.0004,1.0089,1.0052,1.0104,1.0033,1.0069,1.0013
];
const phOutPhase = [0.053,0.169,0.232,0.820,0.820,0.383,0.445,0.678,0.877,0.974,0.465,0.653,0.877,0.597,0.739,0.133,0.105,0.059,0.093,0.366,0.439,0.556,0.616,0.673,0.855,0.911,0.974,0.980,0.014,0.070,0.161,0.292,0.133,0.315,0.355,0.101,0.258,0.284,0.2125,0.252,0.431,0.508,0.820,0.786,0.775,0.798,0.741,0.701,0.644,0.610,0.900,0.930,0.945,0.190,0.300,0.220,0.360,0.245,0.255,0.270,0.230];
const phOutFlux = [1.0574,1.0672,1.0603,1.0743,1.0705,1.0430,1.0423,1.0453,1.0430,1.0420,1.0350,1.0370,1.0345,1.0333,1.0338,1.0320,1.0295,1.0254,1.0213,1.0228,1.0249,1.0281,1.0274,1.0289,1.0302,1.0291,1.0289,1.0366,1.0143,1.0133,1.0123,1.0126,1.0051,1.0041,1.0009,1.0006,0.9922,0.9939,0.9939,1.0027,1.0090,1.0175,1.0254,1.0267,1.0260,1.0249,1.0246,1.0239,1.0249,1.0239,1.0230,1.0240,1.0228,0.9990,0.9880,0.9950,0.9990,0.9665,0.9672,0.9688,0.9690];
const phXRange = [0, 1];
const phYRange = [0.9189, 1.0804];
const phXTicks = [0, 0.2, 0.4, 0.6, 0.8, 1.0];
const phXLabels = ['0.0', '0.2', '0.4', '0.6', '0.8', '1.0'];
const phXMinor = [0.05,0.1,0.15,0.25,0.3,0.35,0.45,0.5,0.55,0.65,0.7,0.75,0.85,0.9,0.95];
const phYTicks = [0.95, 1.00, 1.05];
const phYLabels = ['0.95', '1.00', '1.05'];
const phYMinor = [0.92,0.93,0.94,0.96,0.97,0.98,0.99,1.01,1.02,1.03,1.04,1.06,1.07,1.08];

// ---------- styling / helpers ----------
const SANS = "'Liberation Sans', Arial, Helvetica, sans-serif";
const SERIF = "'Liberation Serif', 'Times New Roman', serif";
Chart.defaults.font.family = SANS;
Chart.defaults.color = '#000';

function pairs(xs, ys) { return xs.map((x, i) => ({x: x, y: ys[i]})); }

function makeFrame(xMajor, xMinor, yMajor, yMinor) {
  return {
    id: 'idlFrame',
    afterDatasetsDraw(chart) {
      const ctx = chart.ctx, a = chart.chartArea;
      const xs = chart.scales.x, ys = chart.scales.y;
      ctx.save();
      ctx.strokeStyle = '#000';
      ctx.lineWidth = 3;
      const draw = (vals, len, isX) => {
        ctx.beginPath();
        for (const v of vals) {
          if (isX) {
            const p = xs.getPixelForValue(v);
            ctx.moveTo(p, a.bottom); ctx.lineTo(p, a.bottom - len);
            ctx.moveTo(p, a.top); ctx.lineTo(p, a.top + len);
          } else {
            const p = ys.getPixelForValue(v);
            ctx.moveTo(a.left, p); ctx.lineTo(a.left + len, p);
            ctx.moveTo(a.right, p); ctx.lineTo(a.right - len, p);
          }
        }
        ctx.stroke();
      };
      draw(xMajor, 10, true); draw(xMinor, 5, true);
      draw(yMajor, 10, false); draw(yMinor, 5, false);
      ctx.strokeRect(a.left, a.top, a.right - a.left, a.bottom - a.top);
      ctx.restore();
    }
  };
}

function makeTitle(text, size) {
  return {
    id: 'panelTitle',
    afterDraw(chart) {
      const ctx = chart.ctx, a = chart.chartArea;
      ctx.save();
      ctx.fillStyle = '#000';
      ctx.font = size + 'px ' + SANS;
      ctx.textAlign = 'center';
      ctx.textBaseline = 'middle';
      ctx.fillText(text, (a.left + a.right) / 2, 27);
      ctx.restore();
    }
  };
}

function axis(opts) {
  return {
    type: opts.type || 'linear',
    min: opts.range[0], max: opts.range[1], bounds: 'data',
    grid: {display: false, drawTicks: false}, border: {display: false},
    afterBuildTicks: s => { s.ticks = opts.ticks.map(v => ({value: v})); },
    afterFit: s => { if (opts.width !== undefined) s.width = opts.width; if (opts.height !== undefined) s.height = opts.height; },
    ticks: {
      autoSkip: false, maxRotation: 0, minRotation: 0, padding: opts.pad, color: '#000',
      font: opts.font || {family: SANS, size: 45},
      callback: (v, i) => opts.labels[i]
    },
    title: {display: true, text: opts.title, color: '#000', font: {family: SANS, size: 44}, padding: opts.titlePad}
  };
}

const pointStyle = {showLine: false, pointRadius: 1.6, pointBorderWidth: 0, pointBackgroundColor: '#000', borderColor: '#000'};
const common = {responsive: false, animation: false, devicePixelRatio: 1, events: []};
const noPlugins = {legend: {display: false}, tooltip: {enabled: false}, title: {display: false}};

// Panel 1
const vkLabel = {
  id: 'vkLabel',
  afterDatasetsDraw(chart) {
    const ctx = chart.ctx, a = chart.chartArea;
    ctx.save();
    ctx.fillStyle = '#000';
    ctx.textBaseline = 'alphabetic';
    ctx.textAlign = 'left';
    ctx.font = '33px ' + SANS;
    ctx.fillText('(V-K)', a.left + 58, a.top + 72);
    ctx.font = '20px ' + SANS;
    ctx.fillText('0', a.left + 139, a.top + 82);
    ctx.font = '34px ' + SANS;
    ctx.fillText('=', a.left + 152, a.top + 72);
    ctx.font = '36px ' + SANS;
    ctx.fillText('4.58', a.left + 186, a.top + 72);
    ctx.restore();
  }
};

new Chart(document.getElementById('c1'), {
  type: 'scatter',
  data: {datasets: [
    Object.assign({data: pairs(lcTime, lcFlux)}, pointStyle),
    Object.assign({data: pairs(lcTime2, lcFlux2)}, pointStyle),
    Object.assign({data: pairs(lcOutTime, lcOutFlux)}, pointStyle)
  ]},
  options: Object.assign({}, common, {
    layout: {padding: {left: 0, right: 61, top: 68, bottom: 2}},
    plugins: noPlugins,
    scales: {
      x: axis({range: lcXRange, ticks: lcXTicks, labels: lcXLabels, pad: 17, height: 119, title: 'times- 2228 (d)', titlePad: {top: 4, bottom: 8}}),
      y: axis({range: lcYRange, ticks: lcYTicks, labels: lcYLabels, pad: 17, width: 259, title: 'flux', titlePad: {top: 4, bottom: 4},
               font: ctx => ({family: (ctx.tick && ctx.tick.value === 13500) ? SANS : SERIF, size: 43})})
    }
  }),
  plugins: [makeFrame(lcXTicks, lcXMinor, lcYTicks, lcYMinor), vkLabel]
});

// Panel 2
new Chart(document.getElementById('c2'), {
  type: 'scatter',
  data: {datasets: [{
    data: pairs(pgPeriod, pgPower), showLine: true, pointRadius: 0, borderWidth: 3, borderColor: '#000', tension: 0
  }]},
  options: Object.assign({}, common, {
    layout: {padding: {left: 37, right: 84, top: 68, bottom: 2}},
    plugins: noPlugins,
    scales: {
      x: axis({type: 'logarithmic', range: pgXRange, ticks: pgXTicks, labels: pgXLabels, pad: 17, height: 119, title: 'Period', titlePad: {top: 4, bottom: 6}}),
      y: axis({range: pgYRange, ticks: pgYTicks, labels: pgYLabels, pad: 8, width: 199, title: 'Power', titlePad: {top: 4, bottom: 4},
               font: ctx => ({family: SANS, size: 45,
                 lineHeight: (ctx.tick && (ctx.tick.value === 0 || ctx.tick.value === 1500)) ? 0.66 : 1.2})})
    }
  }),
  plugins: [makeFrame(pgXTicks, pgXMinor, pgYTicks, pgYMinor), makeTitle(pgTitle, 59)]
});

// Panel 3
new Chart(document.getElementById('c3'), {
  type: 'scatter',
  data: {datasets: [
    Object.assign({data: pairs(phPhase, phFlux)}, pointStyle),
    Object.assign({data: pairs(phPhase2, phFlux2)}, pointStyle),
    Object.assign({data: pairs(phOutPhase, phOutFlux)}, pointStyle)
  ]},
  options: Object.assign({}, common, {
    layout: {padding: {left: 60, right: 35, top: 68, bottom: 2}},
    plugins: noPlugins,
    scales: {
      x: axis({range: phXRange, ticks: phXTicks, labels: phXLabels, pad: 17, height: 119, title: 'phase', titlePad: {top: 4, bottom: 0}}),
      y: axis({range: phYRange, ticks: phYTicks, labels: phYLabels, pad: 12, width: 169, title: 'relative flux', titlePad: {top: 4, bottom: 4}})
    }
  }),
  plugins: [makeFrame(phXTicks, phXMinor, phYTicks, phYMinor), makeTitle(phTitle, 54)]
});
</script>
</body>
</html>
